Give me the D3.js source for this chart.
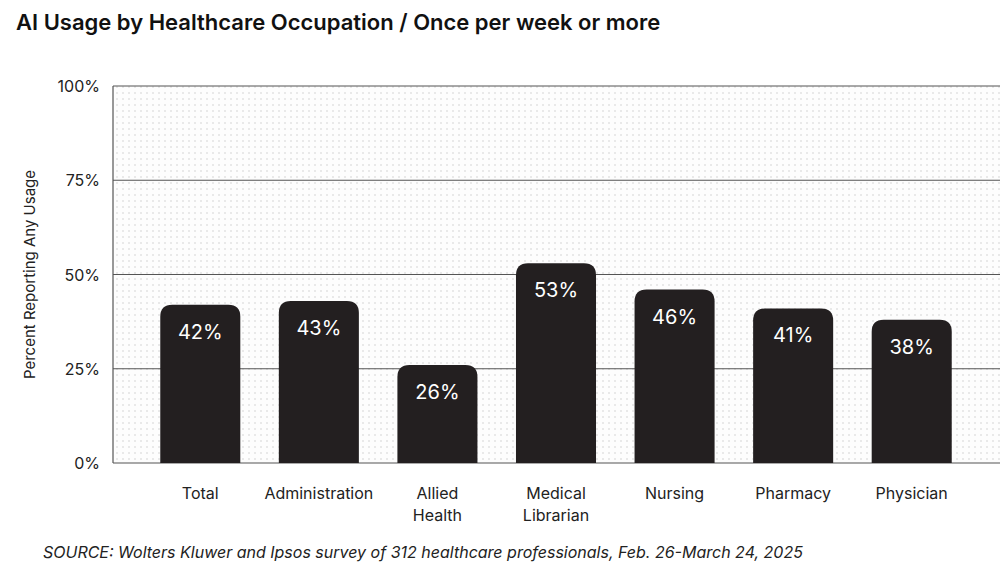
<!DOCTYPE html><html><head><meta charset="utf-8"><script src="https://cdn.jsdelivr.net/npm/d3@7"></script>
<style>body{margin:0;background:#fff;font-family:Inter,"Noto Sans",sans-serif}</style></head><body><svg id="c" width="1007" height="588"></svg>
<script>
const categories=[["Total"],["Administration"],["Allied","Health"],["Medical","Librarian"],["Nursing"],["Pharmacy"],["Physician"]];
const values=[42,43,26,53,46,41,38];
const ticks=[0,25,50,75,100];
const svg=d3.select("#c");
const L=113,R=1000,T=86,B=463;
const x=d3.scaleBand().domain(d3.range(7)).range([141,971]).paddingInner(0.325).paddingOuter(0.1625);
const y=d3.scaleLinear().domain([0,100]).range([B,T]);
const defs=svg.append("defs");
const p=defs.append("pattern").attr("id","dots").attr("width",6).attr("height",6).attr("patternUnits","userSpaceOnUse");
p.append("rect").attr("width",6).attr("height",6).attr("fill","#fdfdfd");
p.append("circle").attr("cx",3).attr("cy",3).attr("r",0.7).attr("fill","#c8c8c8");
svg.append("rect").attr("x",L).attr("y",T).attr("width",R-L).attr("height",B-T).attr("fill","url(#dots)");
svg.append("text").attr("x",16).attr("y",30).attr("font-size",22).attr("font-weight",600).attr("fill","#111").text("AI Usage by Healthcare Occupation / Once per week or more");
ticks.forEach(t=>{
  svg.append("line").attr("x1",L).attr("x2",R).attr("y1",y(t)).attr("y2",y(t)).attr("stroke","#555").attr("stroke-width",1.2);
  svg.append("text").attr("x",100).attr("y",y(t)+6).attr("text-anchor","end").attr("font-size",16).attr("fill","#222").text(t+"%");
});
svg.append("line").attr("x1",L).attr("x2",L).attr("y1",T).attr("y2",B).attr("stroke","#555").attr("stroke-width",1.2);
svg.append("text").attr("transform",`translate(35,${(T+B)/2}) rotate(-90)`).attr("text-anchor","middle").attr("font-size",15).attr("fill","#222").text("Percent Reporting Any Usage");
const r=12,w=x.bandwidth();
values.forEach((v,i)=>{
  const x0=x(i),y0=y(v);
  svg.append("path").attr("fill","#231f20").attr("d",`M${x0},${B}V${y0+r}Q${x0},${y0} ${x0+r},${y0}H${x0+w-r}Q${x0+w},${y0} ${x0+w},${y0+r}V${B}Z`);
  svg.append("text").attr("x",x0+w/2).attr("y",y0+34).attr("text-anchor","middle").attr("font-size",20).attr("fill","#fff").text(v+"%");
  const t=svg.append("text").attr("text-anchor","middle").attr("font-size",16).attr("fill","#222");
  categories[i].forEach((s,j)=>t.append("tspan").attr("x",x0+w/2).attr("y",499+j*22).text(s));
});
svg.append("text").attr("x",43).attr("y",558).attr("font-size",16).attr("font-style","italic").attr("fill","#222").text("SOURCE: Wolters Kluwer and Ipsos survey of 312 healthcare professionals, Feb. 26-March 24, 2025");
</script></body></html>
